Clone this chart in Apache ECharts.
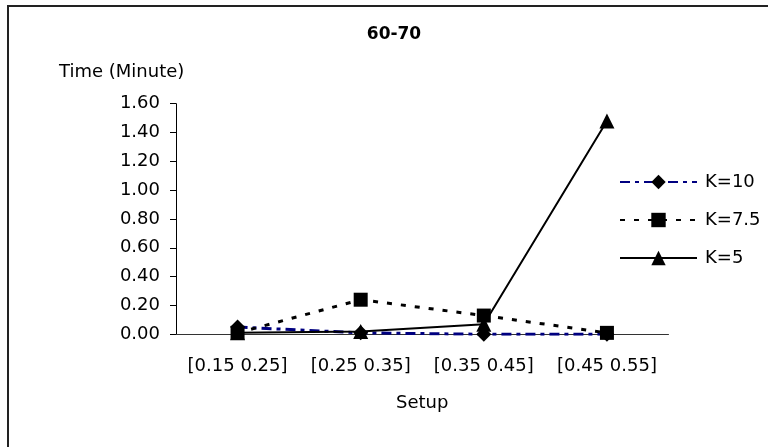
<!DOCTYPE html>
<html>
<head>
<meta charset="utf-8">
<script src="https://cdn.jsdelivr.net/npm/echarts@6/dist/echarts.min.js"></script>
<style>
html,body{margin:0;padding:0;background:#fff;}
#chart{width:768px;height:447px;}
</style>
</head>
<body>
<div id="chart"></div>
<script>
var titleText = "60-70";
var yAxisTitle = "Time (Minute)";
var xAxisTitle = "Setup";
var categories = ["[0.15 0.25]", "[0.25 0.35]", "[0.35 0.45]", "[0.45 0.55]"];
var seriesNames = ["K=10", "K=7.5", "K=5"];
var k10 = [0.05, 0.01, 0.00, 0.00];
var k75 = [0.01, 0.24, 0.13, 0.01];
var k5 = [0.01, 0.02, 0.07, 1.48];
var yMin = 0, yMax = 1.6, yStep = 0.2;

var FONT = "DejaVu Sans";
var chart = echarts.init(document.getElementById('chart'));
chart.setOption({
  animation: false,
  backgroundColor: '#fff',
  title: {
    text: titleText,
    left: 389,
    textAlign: 'center',
    top: 21,
    textStyle: {fontFamily: FONT, fontSize: 17, fontWeight: 'bold', color: '#000'}
  },
  graphic: [
    {type: 'rect', shape: {x: 8, y: 6, width: 800, height: 500},
     style: {fill: 'none', stroke: '#222', lineWidth: 2}, z: -1},
    {type: 'text', style: {text: yAxisTitle, x: 59, y: 72, verticalAlign: 'middle',
      font: '18px "DejaVu Sans"', fill: '#000'}}
  ],
  legend: {
    orient: 'vertical',
    left: 619,
    top: 173,
    padding: 0,
    itemWidth: 77,
    itemHeight: 18,
    itemGap: 20,
    textStyle: {fontFamily: FONT, fontSize: 18, color: '#000', padding: [0,0,0,3]},
    data: seriesNames
  },
  grid: {left: 176, right: 99.5, top: 103.7, bottom: 112.7},
  xAxis: {
    type: 'category',
    data: categories,
    boundaryGap: true,
    name: xAxisTitle,
    nameLocation: 'middle',
    nameGap: 60,
    nameTextStyle: {fontFamily: FONT, fontSize: 18, color: '#000'},
    axisLine: {lineStyle: {color: '#333', width: 1}},
    axisTick: {length: 6, lineStyle: {color: '#333'}},
    axisLabel: {fontFamily: FONT, fontSize: 18, color: '#000', margin: 23, interval: 0}
  },
  yAxis: {
    type: 'value',
    min: yMin, max: yMax, interval: yStep,
    axisLine: {show: true, lineStyle: {color: '#000', width: 1}},
    axisTick: {show: true, length: 6, lineStyle: {color: '#000'}},
    splitLine: {show: false},
    axisLabel: {fontFamily: FONT, fontSize: 18, color: '#000', margin: 16,
      formatter: function (v) { return v.toFixed(2); }}
  },
  series: [
    {name: seriesNames[0], type: 'line', data: k10, symbol: 'diamond', symbolSize: 15,
     itemStyle: {color: '#000'},
     lineStyle: {color: '#000080', width: 3, type: [10, 5, 4, 5]}},
    {name: seriesNames[1], type: 'line', data: k75, symbol: 'rect', symbolSize: 14,
     itemStyle: {color: '#000'},
     lineStyle: {color: '#000', width: 3, type: [5, 9]}},
    {name: seriesNames[2], type: 'line', data: k5, symbol: 'triangle', symbolSize: 15,
     itemStyle: {color: '#000'},
     lineStyle: {color: '#000', width: 2, type: 'solid'}}
  ]
});
</script>
</body>
</html>
